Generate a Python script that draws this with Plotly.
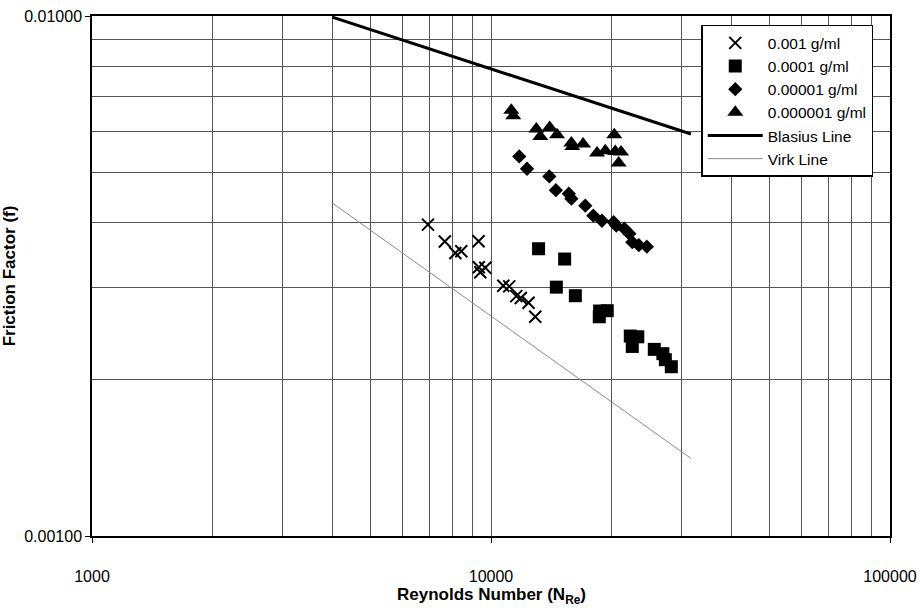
import plotly.graph_objects as go

# Friction factor measurements for four polymer concentrations
re_001 = [6950, 7660, 8140, 8425, 9310, 9320, 9676, 9400, 10735, 11110, 11570, 11875, 12420, 12910]
f_001 = [0.003970, 0.003685, 0.003500, 0.003529, 0.003688, 0.003287, 0.003281, 0.003215,
         0.003029, 0.003020, 0.002893, 0.002868, 0.002809, 0.002640]

re_0001 = [13160, 15295, 14580, 16270, 18720, 19560, 18680, 22340, 23330, 22600, 25660, 26960, 27350, 28310]
f_0001 = [0.003568, 0.003409, 0.003010, 0.002898, 0.002708, 0.002712, 0.002640, 0.002424,
          0.002416, 0.002315, 0.002285, 0.002242, 0.002183, 0.002116]

re_00001 = [11770, 12310, 14000, 14540, 15670, 15900, 17230, 18050, 18970, 20290, 20610,
            21590, 22220, 22600, 23470, 24580]
f_00001 = [0.005370, 0.005084, 0.004914, 0.004624, 0.004553, 0.004453, 0.004317, 0.004130,
           0.004039, 0.004013, 0.003951, 0.003899, 0.003814, 0.003673, 0.003624, 0.003600]

re_000001 = [11240, 11370, 12990, 13290, 14030, 14640, 15900, 15990, 17010, 18440, 19340,
             20370, 20490, 21180, 20890]
f_000001 = [0.006588, 0.006431, 0.006063, 0.005867, 0.006106, 0.005910, 0.005698, 0.005609,
            0.005672, 0.005450, 0.005507, 0.005910, 0.005489, 0.005474, 0.005214]

# Reference correlations (end points of the straight log-log lines)
re_blasius = [4000, 31700]
f_blasius = [0.00995, 0.00593]
re_virk = [4000, 31700]
f_virk = [0.00437, 0.00141]

# Axis ticks
x_major = [1000, 10000, 100000]
x_major_text = ["1000", "10000", "100000"]
x_minor = [m * d for d in (1000, 10000) for m in range(2, 10)]
y_major = [0.001, 0.01]
y_major_text = ["0.00100", "0.01000"]
y_minor = [0.001 * m for m in range(2, 10)]

FONT = "Liberation Sans, Arial, sans-serif"
GRID = "#555555"

fig = go.Figure()
fig.add_trace(go.Scatter(
    x=re_001, y=f_001, mode="markers", name="0.001 g/ml",
    marker=dict(symbol="x-thin", size=12, color="black", line=dict(width=2, color="black"))))
fig.add_trace(go.Scatter(
    x=re_0001, y=f_0001, mode="markers", name="0.0001 g/ml",
    marker=dict(symbol="square", size=13, color="black")))
fig.add_trace(go.Scatter(
    x=re_00001, y=f_00001, mode="markers", name="0.00001 g/ml",
    marker=dict(symbol="diamond", size=11, color="black")))
fig.add_trace(go.Scatter(
    x=re_000001, y=f_000001, mode="markers", name="0.000001 g/ml",
    marker=dict(symbol="triangle-up", size=14, color="black")))
fig.add_trace(go.Scatter(
    x=re_blasius, y=f_blasius, mode="lines", name="Blasius Line",
    line=dict(color="black", width=3)))
fig.add_trace(go.Scatter(
    x=re_virk, y=f_virk, mode="lines", name="Virk Line",
    line=dict(color="#8a8a8a", width=1)))

fig.update_layout(
    width=922, height=608,
    margin=dict(l=92, r=32, t=16, b=72),
    paper_bgcolor="white", plot_bgcolor="white",
    font=dict(family=FONT, color="black", size=16),
    showlegend=True,
    legend=dict(
        x=0.7635, y=0.983, xanchor="left", yanchor="top",
        bgcolor="white", bordercolor="black", borderwidth=1.5,
        font=dict(size=15.5, family=FONT), tracegroupgap=0, itemwidth=55,
    ),
    annotations=[dict(
        text="<b>Reynolds Number (N<sub>Re</sub>)</b>",
        xref="paper", yref="paper", x=0.5, y=-0.116,
        xanchor="center", yanchor="middle", showarrow=False,
        font=dict(size=17, family=FONT, color="black"),
    )],
)

fig.update_xaxes(
    type="log", range=[3, 5], automargin=False,
    tickmode="array", tickvals=x_major, ticktext=x_major_text,
    ticks="outside", ticklen=5, tickcolor="black", ticklabelstandoff=20,
    showgrid=True, gridcolor=GRID, gridwidth=1,
    minor=dict(tickmode="array", tickvals=x_minor, showgrid=True, gridcolor=GRID, gridwidth=1, ticks=""),
    showline=True, linecolor="black", linewidth=1.5, mirror=True,
    tickfont=dict(size=16),
)
fig.update_yaxes(
    type="log", range=[-3, -2], automargin=False,
    tickmode="array", tickvals=y_major, ticktext=y_major_text,
    ticks="outside", ticklen=5, tickcolor="black",
    showgrid=True, gridcolor=GRID, gridwidth=1,
    minor=dict(tickmode="array", tickvals=y_minor, showgrid=True, gridcolor=GRID, gridwidth=1, ticks=""),
    showline=True, linecolor="black", linewidth=1.5, mirror=True,
    tickfont=dict(size=16),
    title=dict(text="<b>Friction Factor (f)</b>", font=dict(size=17), standoff=4),
)

fig.write_html("out.html")
